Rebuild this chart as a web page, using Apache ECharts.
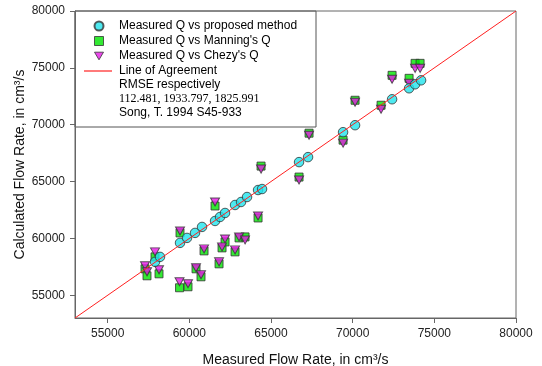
<!DOCTYPE html>
<html>
<head>
<meta charset="utf-8">
<script src="https://cdn.jsdelivr.net/npm/echarts@6/dist/echarts.min.js"></script>
<style>html,body{margin:0;padding:0;background:#fff}#c{width:542px;height:366px}</style>
</head>
<body>
<div id="c"></div>
<script>
// Proposed method: measured x, calculated y
const proposedX = [57900, 58205, 59430, 59859, 60349, 60777, 61574, 61880, 62186, 62798, 63166, 63533, 64207, 64452, 66718, 67269, 69412, 70147, 72413, 73454, 73822, 74189];
const proposedY = [57940, 58377, 59605, 60044, 60483, 61009, 61535, 61886, 62237, 62939, 63202, 63641, 64255, 64343, 66711, 67150, 69343, 69957, 72238, 73203, 73554, 73905];
// Measured Q shared by Manning and Chezy
const measuredQ = [57287, 57409, 57899, 58144, 59430, 59400, 59920, 60410, 60716, 60900, 61574, 61819, 62002, 62186, 62798, 63043, 63411, 64207, 64391, 66718, 67330, 69412, 70147, 71739, 72413, 73454, 73822, 74128];
const manningQ = [57325, 56711, 58377, 56886, 60483, 55658, 55746, 57325, 56623, 58903, 62851, 57763, 59166, 59692, 58816, 60044, 60132, 61798, 66360, 65395, 69255, 68641, 72150, 71711, 74343, 74080, 75396, 75396];
const chezyQ = [57588, 57061, 58816, 57237, 60658, 56184, 56009, 57412, 56798, 59079, 63202, 57939, 59254, 59956, 58991, 60132, 59868, 61974, 66097, 65132, 69079, 68378, 71974, 71360, 73992, 73641, 74957, 74957];
const agreementLine = [[53000, 53000], [80000, 80000]];
const tickValues = [55000, 60000, 65000, 70000, 75000, 80000];
const seriesNames = ["Measured Q vs proposed method", "Measured Q vs Manning's Q", "Measured Q vs Chezy's Q", "Line of Agreement"];
const noteLines = ["RMSE respectively", "112.481, 1933.797, 1825.991", "Song, T. 1994 S45-933"];

const zip = (a, b) => a.map((v, i) => [v, b[i]]);
const chart = echarts.init(document.getElementById('c'));
const SANS = 'Liberation Sans, Arial';
const axisCommon = {
  type: 'value', min: 53000, max: 80000,
  splitLine: {show: false},
  axisLine: {show: true, lineStyle: {color: '#666', width: 1}},
  axisTick: {show: true, length: 5, customValues: tickValues, lineStyle: {color: '#666'}},
  axisLabel: {customValues: tickValues, color: '#222', fontFamily: SANS, fontSize: 12, margin: 10, formatter: v => String(v)},
  nameLocation: 'middle',
  nameMoveOverlap: false,
  nameTextStyle: {color: '#111', fontFamily: SANS, fontSize: 14}
};
const colors = {proposed: '#22e3ec', manning: '#00e400', chezy: '#e619e6', line: '#ff2020'};
chart.setOption({
  animation: false,
  grid: {left: 75, right: 26, top: 11, bottom: 48, show: true, borderColor: '#666', borderWidth: 1, containLabel: false, outerBoundsMode: 'none'},
  xAxis: Object.assign({}, axisCommon, {name: 'Measured Flow Rate, in cm³/s', nameGap: 35}),
  yAxis: Object.assign({}, axisCommon, {name: 'Calculated Flow Rate, in cm³/s', nameGap: 48}),
  legend: [
    {
      orient: 'vertical', left: 93.5, top: 19, padding: 0, itemGap: 1,
      itemWidth: 9, itemHeight: 9,
      data: [
        {name: seriesNames[0], icon: 'circle'},
        {name: seriesNames[1], icon: 'rect', itemStyle: {color: colors.manning, borderColor: '#333', borderWidth: 1}},
        {name: seriesNames[2], icon: 'path://M0,0L2,0L1,1.7Z', itemStyle: {color: colors.chezy, borderColor: '#333', borderWidth: 1}}
      ],
      textStyle: {color: '#000', fontFamily: SANS, fontSize: 12, lineHeight: 14, padding: [0, 0, 0, 10.5]}
    },
    {
      orient: 'vertical', left: 84, top: 64, padding: 0,
      itemWidth: 28, itemHeight: 1.2,
      data: [{name: seriesNames[3], icon: 'rect', itemStyle: {color: colors.line, borderWidth: 0}}],
      textStyle: {color: '#000', fontFamily: SANS, fontSize: 12, lineHeight: 14, padding: [0, 0, 0, 2]}
    }
  ],
  graphic: [
    {type: 'rect', shape: {x: 75, y: 11, width: 241, height: 116}, style: {fill: '#fff', stroke: '#555', lineWidth: 1}, z: -1},
    {type: 'text', x: 119, y: 85, style: {text: noteLines[0], fill: '#000', font: '12px Liberation Sans, Arial', textVerticalAlign: 'middle'}},
    {type: 'text', x: 119, y: 99, style: {text: noteLines[1], fill: '#000', font: '12px Liberation Serif, Times New Roman, serif', textVerticalAlign: 'middle'}},
    {type: 'text', x: 119, y: 113, style: {text: noteLines[2], fill: '#000', font: '12px Liberation Sans, Arial', textVerticalAlign: 'middle'}}
  ],
  series: [
    {name: seriesNames[1], type: 'scatter', symbol: 'rect', symbolSize: 8, data: zip(measuredQ, manningQ),
     itemStyle: {color: colors.manning, borderColor: '#333', borderWidth: 1}, z: 2},
    {name: seriesNames[2], type: 'scatter', symbol: 'triangle', symbolRotate: 180, symbolSize: [9, 8], data: zip(measuredQ, chezyQ),
     itemStyle: {color: colors.chezy, borderColor: '#333', borderWidth: 1}, z: 3},
    {name: seriesNames[0], type: 'scatter', symbol: 'circle', symbolSize: 9.5, data: zip(proposedX, proposedY),
     itemStyle: {color: colors.proposed, borderColor: '#333', borderWidth: 1}, z: 4},
    {name: seriesNames[3], type: 'line', symbol: 'none', data: agreementLine,
     lineStyle: {color: colors.line, width: 1}, itemStyle: {color: colors.line}, z: 5}
  ]
});
</script>
</body>
</html>
